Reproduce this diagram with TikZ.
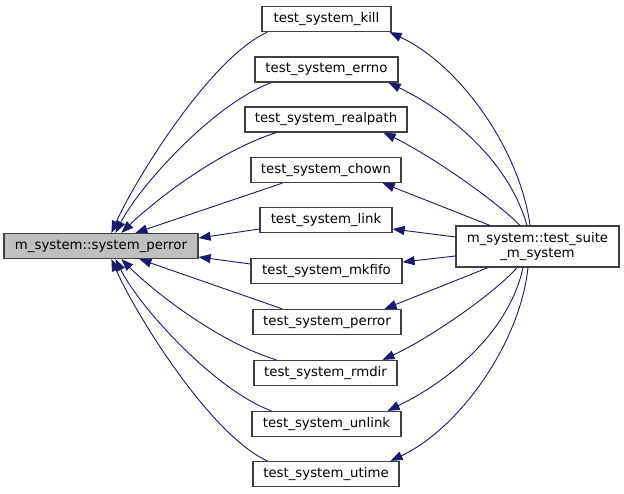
\documentclass[tikz,border=0pt]{standalone}
\usepackage{fontspec}
\setmainfont{DejaVu Sans}
\usetikzlibrary{arrows.meta}
\definecolor{edgeblue}{HTML}{191970}
\definecolor{nodeborder}{HTML}{404040}
\definecolor{mainfill}{HTML}{BFBFBF}
\begin{document}
\begin{tikzpicture}[x=1pt,y=-1pt,
  box/.style={draw=nodeborder, line width=1.2pt, fill=white, rectangle, inner sep=0pt,
    minimum height=25pt, align=center, font=\fontsize{13.3}{15.5}\selectfont, text=black},
  edge/.style={draw=edgeblue, line width=0.9pt, -{Triangle[length=12pt,width=9pt]}, color=edgeblue}]
\useasboundingbox (0,0) rectangle (624,493);

\node[box, fill=mainfill, minimum width=194pt] (main) at (101,246) {m\_system::system\_perror};
\node[box, minimum width=163pt, minimum height=41pt] (suite) at (537.5,246.5) {m\_system::test\_suite\\\_m\_system};

\node[box, minimum width=129pt] (kill) at (326.5,19) {test\_system\_kill};
\node[box, minimum width=143pt] (errno) at (326.5,69.5) {test\_system\_errno};
\node[box, minimum width=162pt] (realpath) at (326,119.5) {test\_system\_realpath};
\node[box, minimum width=150pt] (chown) at (326,170) {test\_system\_chown};
\node[box, minimum width=132pt] (link) at (326,220) {test\_system\_link};
\node[box, minimum width=151pt] (mkfifo) at (326.5,271) {test\_system\_mkfifo};
\node[box, minimum width=148pt] (perror) at (327,322) {test\_system\_perror};
\node[box, minimum width=143pt] (rmdir) at (325.5,373) {test\_system\_rmdir};
\node[box, minimum width=149pt] (unlink) at (326.5,424) {test\_system\_unlink};
\node[box, minimum width=146pt] (utime) at (326,474) {test\_system\_utime};

% callers -> main
\draw[edge] ([xshift=6pt]kill.south west) .. controls (210,58) and (135,180) .. ([xshift=108pt]main.north west);
\draw[edge] ([xshift=17pt]errno.south west) .. controls (215,103) and (140,185) .. ([xshift=112pt]main.north west);
\draw[edge] ([xshift=32pt]realpath.south west) .. controls (215,152) and (150,205) .. ([xshift=118pt]main.north west);
\draw[edge] ([xshift=32pt]chown.south west) -- ([xshift=132pt]main.north west);
\draw[edge] ([yshift=-9pt]link.west) -- ([yshift=8pt]main.east);
\draw[edge] ([yshift=7pt]mkfifo.west) -- ([yshift=-11pt]main.east);
\draw[edge] ([xshift=30pt]perror.north west) -- ([xshift=136pt]main.south west);
\draw[edge] ([xshift=23pt]rmdir.north west) .. controls (215,341) and (150,288) .. ([xshift=118pt]main.south west);
\draw[edge] ([xshift=20pt]unlink.north west) .. controls (215,390) and (140,308) .. ([xshift=112pt]main.south west);
\draw[edge] ([xshift=15pt]utime.north west) .. controls (210,435) and (135,313) .. ([xshift=108pt]main.south west);

% suite -> callers
\draw[edge] ([xshift=-7.5pt]suite.north) .. controls (520,150) and (460,65) .. ([xshift=-2pt]kill.south east);
\draw[edge] ([xshift=-10.5pt]suite.north) .. controls (510,165) and (455,115) .. ([xshift=-10pt]errno.south east);
\draw[edge] ([xshift=-17.5pt]suite.north) .. controls (495,200) and (430,155) .. ([xshift=-24pt]realpath.south east);
\draw[edge] ([xshift=-47.5pt]suite.north) -- ([xshift=-19pt]chown.south east);
\draw[edge] ([yshift=9.5pt]suite.west) -- ([yshift=-9pt]link.east);
\draw[edge] ([yshift=-9.5pt]suite.west) -- ([yshift=9pt]mkfifo.east);
\draw[edge] ([xshift=-49.5pt]suite.south) -- ([xshift=-17pt]perror.north east);
\draw[edge] ([xshift=-20.5pt]suite.south) .. controls (495,293) and (430,338) .. ([xshift=-15pt]rmdir.north east);
\draw[edge] ([xshift=-14.5pt]suite.south) .. controls (510,328) and (455,378) .. ([xshift=-14pt]unlink.north east);
\draw[edge] ([xshift=-9.5pt]suite.south) .. controls (520,343) and (460,428) .. ([xshift=-9pt]utime.north east);
\end{tikzpicture}
\end{document}
